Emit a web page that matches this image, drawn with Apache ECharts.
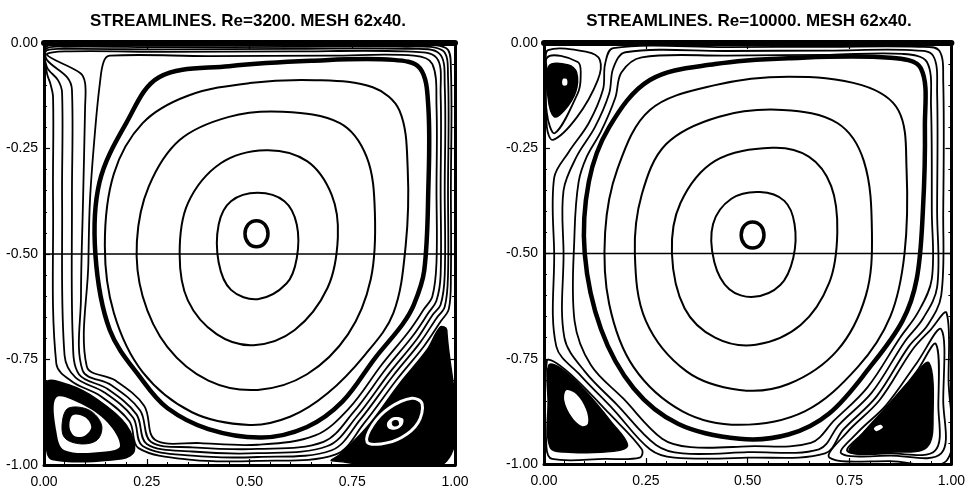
<!DOCTYPE html>
<html><head><meta charset="utf-8">
<script src="https://cdn.jsdelivr.net/npm/echarts@6/dist/echarts.min.js"></script>
<style>html,body{margin:0;padding:0;background:#fff}#c{width:968px;height:490px}</style>
</head><body><div id="c"></div>
<script>
// ---------- titles & ticks ----------
const titles = ['STREAMLINES. Re=3200. MESH 62x40.', 'STREAMLINES. Re=10000. MESH 62x40.'];
const xTickValues = [0, 0.25, 0.5, 0.75, 1];
const xTickLabels = ['0.00', '0.25', '0.50', '0.75', '1.00'];
const yTickValues = [0, -0.25, -0.5, -0.75, -1];
const yTickLabels = ['0.00', '-0.25', '-0.50', '-0.75', '-1.00'];
const midLine = [[0, -0.5], [1, -0.5]];

// ---------- Re = 3200 ----------
const re3200Eye = [
  [[0.517,-0.421],[0.537,-0.430],[0.545,-0.452],[0.537,-0.474],[0.517,-0.483],[0.497,-0.474],[0.489,-0.452],[0.497,-0.430]]
];
const re3200Rings = [
  [[0.52,-0.355],[0.585,-0.375],[0.615,-0.43],[0.615,-0.51],[0.59,-0.57],[0.52,-0.607],[0.455,-0.585],[0.425,-0.52],[0.425,-0.43],[0.455,-0.375]],
  [[0.54,-0.254],[0.64,-0.28],[0.70,-0.36],[0.715,-0.46],[0.69,-0.58],[0.61,-0.68],[0.51,-0.716],[0.42,-0.69],[0.35,-0.61],[0.33,-0.50],[0.35,-0.38],[0.43,-0.285]],
  [[0.58,-0.163],[0.72,-0.19],[0.785,-0.27],[0.805,-0.40],[0.795,-0.56],[0.74,-0.69],[0.64,-0.785],[0.52,-0.822],[0.4,-0.8],[0.3,-0.72],[0.24,-0.6],[0.226,-0.47],[0.255,-0.34],[0.33,-0.23],[0.45,-0.175]],
  [[0.66,-0.088],[0.8,-0.105],[0.865,-0.16],[0.885,-0.3],[0.88,-0.48],[0.85,-0.64],[0.78,-0.74],[0.69,-0.83],[0.6,-0.885],[0.5,-0.905],[0.36,-0.875],[0.24,-0.78],[0.17,-0.64],[0.148,-0.48],[0.17,-0.31],[0.24,-0.19],[0.35,-0.125],[0.5,-0.095]]
];
const re3200Thick = [
  [[0.28,-0.081],[0.45,-0.055],[0.65,-0.042],[0.85,-0.040],[0.915,-0.06],[0.935,-0.15],[0.935,-0.35],[0.925,-0.54],[0.9,-0.62],[0.872,-0.667],[0.806,-0.746],[0.726,-0.85],[0.64,-0.91],[0.53,-0.935],[0.4,-0.915],[0.3,-0.865],[0.24,-0.80],[0.16,-0.68],[0.125,-0.50],[0.135,-0.33],[0.20,-0.19]]
];
const re3200Outer = [
  [[0.16,-0.03],[0.4,-0.031],[0.7,-0.03],[0.9,-0.03],[0.945,-0.05],[0.955,-0.15],[0.955,-0.35],[0.955,-0.52],[0.945,-0.6],[0.925,-0.63],[0.888,-0.683],[0.822,-0.762],[0.742,-0.866],[0.66,-0.93],[0.52,-0.952],[0.38,-0.948],[0.27,-0.94],[0.244,-0.86],[0.174,-0.8],[0.104,-0.766],[0.108,-0.52],[0.112,-0.37],[0.125,-0.2],[0.136,-0.095],[0.145,-0.045]],
  [[0.05,-0.02],[0.3,-0.021],[0.6,-0.02],[0.88,-0.02],[0.955,-0.035],[0.965,-0.12],[0.965,-0.35],[0.965,-0.55],[0.955,-0.61],[0.935,-0.64],[0.898,-0.693],[0.832,-0.772],[0.752,-0.876],[0.68,-0.945],[0.52,-0.962],[0.36,-0.958],[0.26,-0.945],[0.234,-0.871],[0.164,-0.811],[0.094,-0.776],[0.09,-0.6],[0.095,-0.372],[0.1,-0.152],[0.1,-0.095],[0.088,-0.071],[0.007,-0.028]],
  [[0.05,-0.014],[0.3,-0.015],[0.6,-0.014],[0.88,-0.014],[0.962,-0.025],[0.975,-0.1],[0.975,-0.35],[0.975,-0.55],[0.965,-0.62],[0.945,-0.645],[0.907,-0.702],[0.841,-0.781],[0.761,-0.885],[0.69,-0.955],[0.52,-0.972],[0.36,-0.968],[0.25,-0.95],[0.225,-0.88],[0.155,-0.82],[0.085,-0.785],[0.07,-0.7],[0.068,-0.372],[0.068,-0.111],[0.056,-0.081],[0.007,-0.04],[0.006,-0.018]],
  [[0.05,-0.009],[0.3,-0.01],[0.6,-0.009],[0.88,-0.009],[0.97,-0.018],[0.983,-0.08],[0.983,-0.35],[0.983,-0.55],[0.975,-0.625],[0.955,-0.652],[0.915,-0.71],[0.849,-0.789],[0.769,-0.893],[0.7,-0.965],[0.52,-0.981],[0.36,-0.978],[0.24,-0.955],[0.217,-0.888],[0.147,-0.828],[0.077,-0.793],[0.05,-0.74],[0.044,-0.372],[0.044,-0.118],[0.034,-0.088],[0.007,-0.057],[0.005,-0.014]],
  [[0.05,-0.005],[0.3,-0.006],[0.6,-0.005],[0.88,-0.005],[0.978,-0.012],[0.99,-0.06],[0.99,-0.35],[0.99,-0.55],[0.985,-0.63],[0.965,-0.66],[0.924,-0.719],[0.858,-0.798],[0.778,-0.902],[0.71,-0.975],[0.52,-0.99],[0.36,-0.988],[0.23,-0.96],[0.208,-0.897],[0.138,-0.837],[0.068,-0.802],[0.03,-0.76],[0.022,-0.372],[0.022,-0.128],[0.015,-0.095],[0.007,-0.071],[0.004,-0.01]]
];
// corner eddies (dense areas filled, gaps in white)
const re3200EddyBlack = [
  [[0.005,-0.805],[0.06,-0.81],[0.13,-0.845],[0.2,-0.905],[0.22,-0.965],[0.19,-0.985],[0.02,-0.987],[0.005,-0.95]],
  [[0.964,-0.673],[0.98,-0.68],[0.98,-0.99],[0.7,-0.99],[0.72,-0.975],[0.786,-0.91],[0.866,-0.806],[0.932,-0.727]]
];
const re3200EddyWhite = [
  [[0.03,-0.84],[0.09,-0.855],[0.155,-0.9],[0.185,-0.955],[0.15,-0.968],[0.05,-0.965],[0.03,-0.92]],
  [[0.835,-0.9],[0.85,-0.887],[0.873,-0.89],[0.872,-0.905],[0.855,-0.916],[0.838,-0.913]]
];
const re3200EddyCore = [
  [[0.06,-0.865],[0.11,-0.87],[0.14,-0.905],[0.13,-0.94],[0.09,-0.95],[0.05,-0.935],[0.045,-0.895]],
  [[0.848,-0.897],[0.86,-0.895],[0.862,-0.905],[0.85,-0.907]]
];
const re3200EddyCenter = [
  [[0.07,-0.882],[0.1,-0.887],[0.115,-0.91],[0.1,-0.93],[0.075,-0.932],[0.062,-0.91]]
];
const re3200EddyGapRing = [
  [[0.786,-0.945],[0.8,-0.905],[0.84,-0.865],[0.895,-0.842],[0.92,-0.855],[0.91,-0.9],[0.87,-0.935],[0.82,-0.95]]
];

// ---------- Re = 10000 ----------
const re10000Eye = [
  [[0.512,-0.425],[0.532,-0.434],[0.540,-0.456],[0.532,-0.478],[0.512,-0.487],[0.492,-0.478],[0.484,-0.456],[0.492,-0.434]]
];
const re10000Rings = [
  [[0.53,-0.354],[0.59,-0.375],[0.615,-0.43],[0.612,-0.51],[0.58,-0.575],[0.515,-0.603],[0.455,-0.585],[0.418,-0.52],[0.415,-0.43],[0.46,-0.37]],
  [[0.56,-0.249],[0.65,-0.27],[0.705,-0.34],[0.72,-0.45],[0.7,-0.57],[0.63,-0.67],[0.52,-0.717],[0.42,-0.7],[0.345,-0.63],[0.314,-0.5],[0.335,-0.38],[0.42,-0.28]],
  [[0.586,-0.159],[0.72,-0.19],[0.785,-0.28],[0.805,-0.45],[0.79,-0.6],[0.72,-0.73],[0.6,-0.81],[0.48,-0.824],[0.35,-0.78],[0.25,-0.66],[0.223,-0.5],[0.24,-0.36],[0.3,-0.24],[0.43,-0.175]],
  [[0.6,-0.08],[0.78,-0.1],[0.87,-0.16],[0.89,-0.3],[0.885,-0.5],[0.85,-0.65],[0.77,-0.77],[0.64,-0.875],[0.48,-0.907],[0.34,-0.875],[0.22,-0.77],[0.16,-0.62],[0.15,-0.45],[0.18,-0.3],[0.26,-0.159],[0.42,-0.1]]
];
const re10000Thick = [
  [[0.6,-0.036],[0.85,-0.035],[0.925,-0.06],[0.935,-0.2],[0.93,-0.4],[0.915,-0.56],[0.88,-0.66],[0.8,-0.77],[0.7,-0.88],[0.6,-0.93],[0.48,-0.94],[0.33,-0.905],[0.22,-0.82],[0.14,-0.68],[0.1,-0.5],[0.11,-0.33],[0.16,-0.2],[0.26,-0.088],[0.42,-0.05]]
];
const re10000Outer = [
  [[0.24,-0.034],[0.45,-0.03],[0.7,-0.028],[0.88,-0.026],[0.94,-0.045],[0.95,-0.15],[0.952,-0.4],[0.952,-0.56],[0.918,-0.64],[0.874,-0.7],[0.794,-0.818],[0.713,-0.896],[0.655,-0.95],[0.5,-0.958],[0.36,-0.96],[0.29,-0.94],[0.195,-0.845],[0.115,-0.765],[0.075,-0.66],[0.075,-0.45],[0.085,-0.33],[0.105,-0.27],[0.14,-0.21],[0.175,-0.13],[0.19,-0.07]],
  [[0.2,-0.022],[0.45,-0.019],[0.7,-0.018],[0.9,-0.017],[0.955,-0.03],[0.965,-0.12],[0.965,-0.4],[0.965,-0.58],[0.93,-0.655],[0.885,-0.71],[0.805,-0.83],[0.724,-0.907],[0.675,-0.965],[0.5,-0.972],[0.34,-0.975],[0.275,-0.955],[0.18,-0.86],[0.1,-0.78],[0.05,-0.7],[0.048,-0.5],[0.048,-0.35],[0.08,-0.27],[0.125,-0.2],[0.16,-0.12],[0.17,-0.06]],
  [[0.17,-0.012],[0.45,-0.01],[0.7,-0.009],[0.92,-0.009],[0.97,-0.018],[0.98,-0.09],[0.98,-0.4],[0.975,-0.6],[0.942,-0.67],[0.896,-0.72],[0.816,-0.84],[0.735,-0.918],[0.69,-0.975],[0.5,-0.985],[0.32,-0.985],[0.26,-0.965],[0.17,-0.87],[0.09,-0.79],[0.03,-0.72],[0.025,-0.5],[0.025,-0.32],[0.06,-0.26],[0.11,-0.19],[0.145,-0.11],[0.15,-0.05]]
];
const re10000EddyLines = [
  [[0.01,-0.017],[0.105,-0.021],[0.137,-0.04],[0.132,-0.088],[0.081,-0.176],[0.022,-0.23],[0.007,-0.2],[0.006,-0.06]],
  [[0.007,-0.036],[0.083,-0.045],[0.09,-0.08],[0.083,-0.119],[0.027,-0.214],[0.007,-0.166]],
  [[0.007,-0.755],[0.03,-0.76],[0.08,-0.8],[0.16,-0.88],[0.24,-0.965],[0.235,-0.985],[0.15,-0.988],[0.02,-0.988],[0.006,-0.96]],
  [[0.988,-0.641],[0.993,-0.8],[0.99,-0.99],[0.85,-0.993],[0.701,-0.985],[0.743,-0.926],[0.824,-0.848],[0.904,-0.729],[0.95,-0.68]],
  [[0.975,-0.68],[0.98,-0.85],[0.975,-0.975],[0.85,-0.98],[0.73,-0.975],[0.77,-0.925],[0.84,-0.86],[0.915,-0.76]],
  [[0.962,-0.715],[0.968,-0.86],[0.96,-0.968],[0.85,-0.975],[0.745,-0.97],[0.785,-0.925],[0.845,-0.865],[0.915,-0.78]]
];
const re10000EddyBlack = [
  [[0.012,-0.055],[0.06,-0.052],[0.08,-0.07],[0.078,-0.115],[0.05,-0.16],[0.025,-0.175],[0.01,-0.13]],
  [[0.012,-0.765],[0.045,-0.775],[0.1,-0.825],[0.165,-0.9],[0.205,-0.955],[0.17,-0.97],[0.06,-0.972],[0.015,-0.96],[0.01,-0.85]],
  [[0.945,-0.76],[0.955,-0.88],[0.94,-0.96],[0.85,-0.972],[0.75,-0.972],[0.78,-0.93],[0.84,-0.865],[0.9,-0.8]]
];
const re10000EddyWhite = [
  [[0.046,-0.086],[0.056,-0.086],[0.056,-0.1],[0.046,-0.1]],
  [[0.055,-0.825],[0.08,-0.835],[0.103,-0.87],[0.108,-0.903],[0.093,-0.91],[0.068,-0.888],[0.05,-0.85]],
  [[0.81,-0.915],[0.825,-0.907],[0.832,-0.913],[0.816,-0.922]]
];

// ---------- helpers ----------
const FONT = '"Liberation Sans", Arial, sans-serif';
function curves(list, g, opt) {
  return {
    type: 'custom', coordinateSystem: 'cartesian2d',
    xAxisIndex: g * 2, yAxisIndex: g * 2, clip: true, silent: true, animation: false,
    data: list.map(c => c[0]),
    renderItem: function (params, api) {
      const pts = list[params.dataIndex].map(p => api.coord(p));
      return {
        type: opt.open ? 'polyline' : 'polygon',
        shape: { points: pts, smooth: opt.open ? 0 : 0.35 },
        style: { stroke: opt.stroke || null, fill: opt.fill || 'none', lineWidth: opt.lw || 0 }
      };
    }
  };
}
const tick = { inside: true, length: 6, lineStyle: { color: '#000', width: 1.2 } };
const minor = { show: true, splitNumber: 5, length: 3, lineStyle: { color: '#000', width: 1 } };
function xAxes(g) {
  return [
    { gridIndex: g, type: 'value', min: 0, max: 1, interval: 0.25, position: 'bottom', z: 10,
      axisLine: { onZero: false, lineStyle: { color: '#000', width: 3 } }, axisTick: tick, minorTick: minor,
      splitLine: { show: false },
      axisLabel: { color: '#000', fontSize: 14, fontFamily: FONT, margin: 10,
        formatter: v => { const i = xTickValues.indexOf(v); return i >= 0 ? xTickLabels[i] : v.toFixed(2); } } },
    { gridIndex: g, type: 'value', min: 0, max: 1, interval: 0.25, position: 'top', z: 10,
      axisLine: { onZero: false, lineStyle: { color: '#000', width: 6 } }, axisTick: tick, minorTick: minor,
      splitLine: { show: false }, axisLabel: { show: false } }
  ];
}
function yAxes(g) {
  return [
    { gridIndex: g, type: 'value', min: -1, max: 0, interval: 0.25, position: 'left', z: 10,
      axisLine: { onZero: false, lineStyle: { color: '#000', width: 3 } }, axisTick: tick, minorTick: minor,
      splitLine: { show: false },
      axisLabel: { color: '#000', fontSize: 14, fontFamily: FONT, margin: 6,
        formatter: v => { const i = yTickValues.indexOf(v); return i >= 0 ? yTickLabels[i] : v.toFixed(2); } } },
    { gridIndex: g, type: 'value', min: -1, max: 0, interval: 0.25, position: 'right', z: 10,
      axisLine: { onZero: false, lineStyle: { color: '#000', width: 3 } }, axisTick: tick, minorTick: minor,
      splitLine: { show: false }, axisLabel: { show: false } }
  ];
}

const chart = echarts.init(document.getElementById('c'), null, { renderer: 'canvas' });
chart.setOption({
  backgroundColor: '#fff',
  animation: false,
  title: [
    { text: titles[0], left: 243, top: 8, textAlign: 'center',
      textStyle: { fontSize: 17, fontWeight: 'bold', fontFamily: FONT, color: '#000' } },
    { text: titles[1], left: 744, top: 8, textAlign: 'center',
      textStyle: { fontSize: 17, fontWeight: 'bold', fontFamily: FONT, color: '#000' } }
  ],
  grid: [
    { left: 44, top: 43, width: 411, height: 422 },
    { left: 544, top: 43, width: 408, height: 421 }
  ],
  xAxis: xAxes(0).concat(xAxes(1)),
  yAxis: yAxes(0).concat(yAxes(1)),
  series: [
    // Re=3200
    curves(re3200Rings, 0, { stroke: '#000', lw: 2 }),
    curves(re3200Outer, 0, { stroke: '#000', lw: 1.8 }),
    curves(re3200Thick, 0, { stroke: '#000', lw: 4.5 }),
    curves(re3200Eye, 0, { stroke: '#000', lw: 3.5 }),
    curves([midLine], 0, { stroke: '#000', lw: 1.6, open: true }),
    curves(re3200EddyBlack, 0, { stroke: '#000', fill: '#000', lw: 1.5 }),
    curves(re3200EddyWhite, 0, { fill: '#fff' }),
    curves(re3200EddyCore, 0, { stroke: '#000', fill: '#000', lw: 1 }),
    curves(re3200EddyCenter, 0, { fill: '#fff' }),
    curves(re3200EddyGapRing, 0, { stroke: '#fff', lw: 3 }),
    // Re=10000
    curves(re10000Rings, 1, { stroke: '#000', lw: 2 }),
    curves(re10000Outer, 1, { stroke: '#000', lw: 1.8 }),
    curves(re10000Thick, 1, { stroke: '#000', lw: 4.5 }),
    curves(re10000Eye, 1, { stroke: '#000', lw: 3.5 }),
    curves([midLine], 1, { stroke: '#000', lw: 1.6, open: true }),
    curves(re10000EddyLines, 1, { stroke: '#000', lw: 1.8 }),
    curves(re10000EddyBlack, 1, { stroke: '#000', fill: '#000', lw: 1.5 }),
    curves(re10000EddyWhite, 1, { fill: '#fff' })
  ]
});
</script></body></html>
